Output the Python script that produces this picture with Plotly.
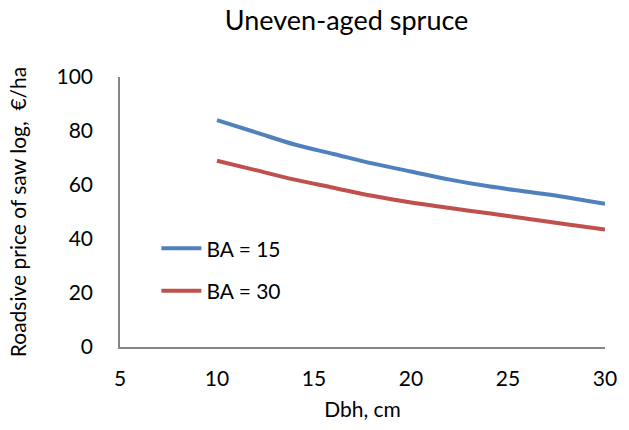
import plotly.graph_objects as go

dbh = [10, 12, 14, 16, 18, 20, 22, 24, 26, 28, 30]
ba15 = [84, 79.5, 75, 71.5, 68, 65, 62, 59.5, 57.5, 55.5, 53]
ba30 = [69, 65.5, 62, 59, 56, 53.5, 51.5, 49.5, 47.5, 45.5, 43.5]
series_names = ["BA = 15", "BA = 30"]
x_ticks = [5, 10, 15, 20, 25, 30]
y_ticks = [0, 20, 40, 60, 80, 100]

FONT = "Lato, Calibri, sans-serif"
FS = 21

fig = go.Figure()
fig.add_trace(go.Scatter(x=dbh, y=ba15, mode="lines", name=series_names[0],
                         line=dict(color="#4F81BD", width=4, shape="spline"),
                         legendgroup="a"))
fig.add_trace(go.Scatter(x=dbh, y=ba30, mode="lines", name=series_names[1],
                         line=dict(color="#C0504D", width=4, shape="spline"),
                         legendgroup="b"))

fig.update_layout(
    width=629, height=430,
    margin=dict(l=120, r=16, t=77, b=81),
    paper_bgcolor="white", plot_bgcolor="white",
    font=dict(family=FONT, size=FS, color="#000000"),
    title=dict(text="Uneven-aged spruce", x=0.551, xref="container", xanchor="center",
               y=0.952, yref="container", yanchor="middle",
               font=dict(family=FONT, size=27, color="#000000")),
    showlegend=True,
    legend=dict(x=0.075, y=0.44, xanchor="left", yanchor="top",
                bgcolor="rgba(0,0,0,0)", traceorder="grouped", tracegroupgap=12,
                font=dict(family=FONT, size=FS), itemwidth=40),
)
fig.update_xaxes(range=[5, 30], tickvals=x_ticks, showgrid=False, zeroline=False,
                 showline=True, linecolor="#868686", linewidth=1.5,
                 ticks="", ticklabelstandoff=12,
                 title=dict(text="Dbh, cm", standoff=13, font=dict(family=FONT, size=FS)),
                 tickfont=dict(family=FONT, size=FS))
fig.update_yaxes(range=[0, 100], tickvals=y_ticks, showgrid=False, zeroline=False,
                 showline=True, linecolor="#868686", linewidth=1.5,
                 ticks="", ticklabelstandoff=21,
                 title=dict(text="Roadsive price of saw log,  €/ha", standoff=24,
                            font=dict(family=FONT, size=FS)),
                 tickfont=dict(family=FONT, size=FS))

fig.write_html("out.html")
